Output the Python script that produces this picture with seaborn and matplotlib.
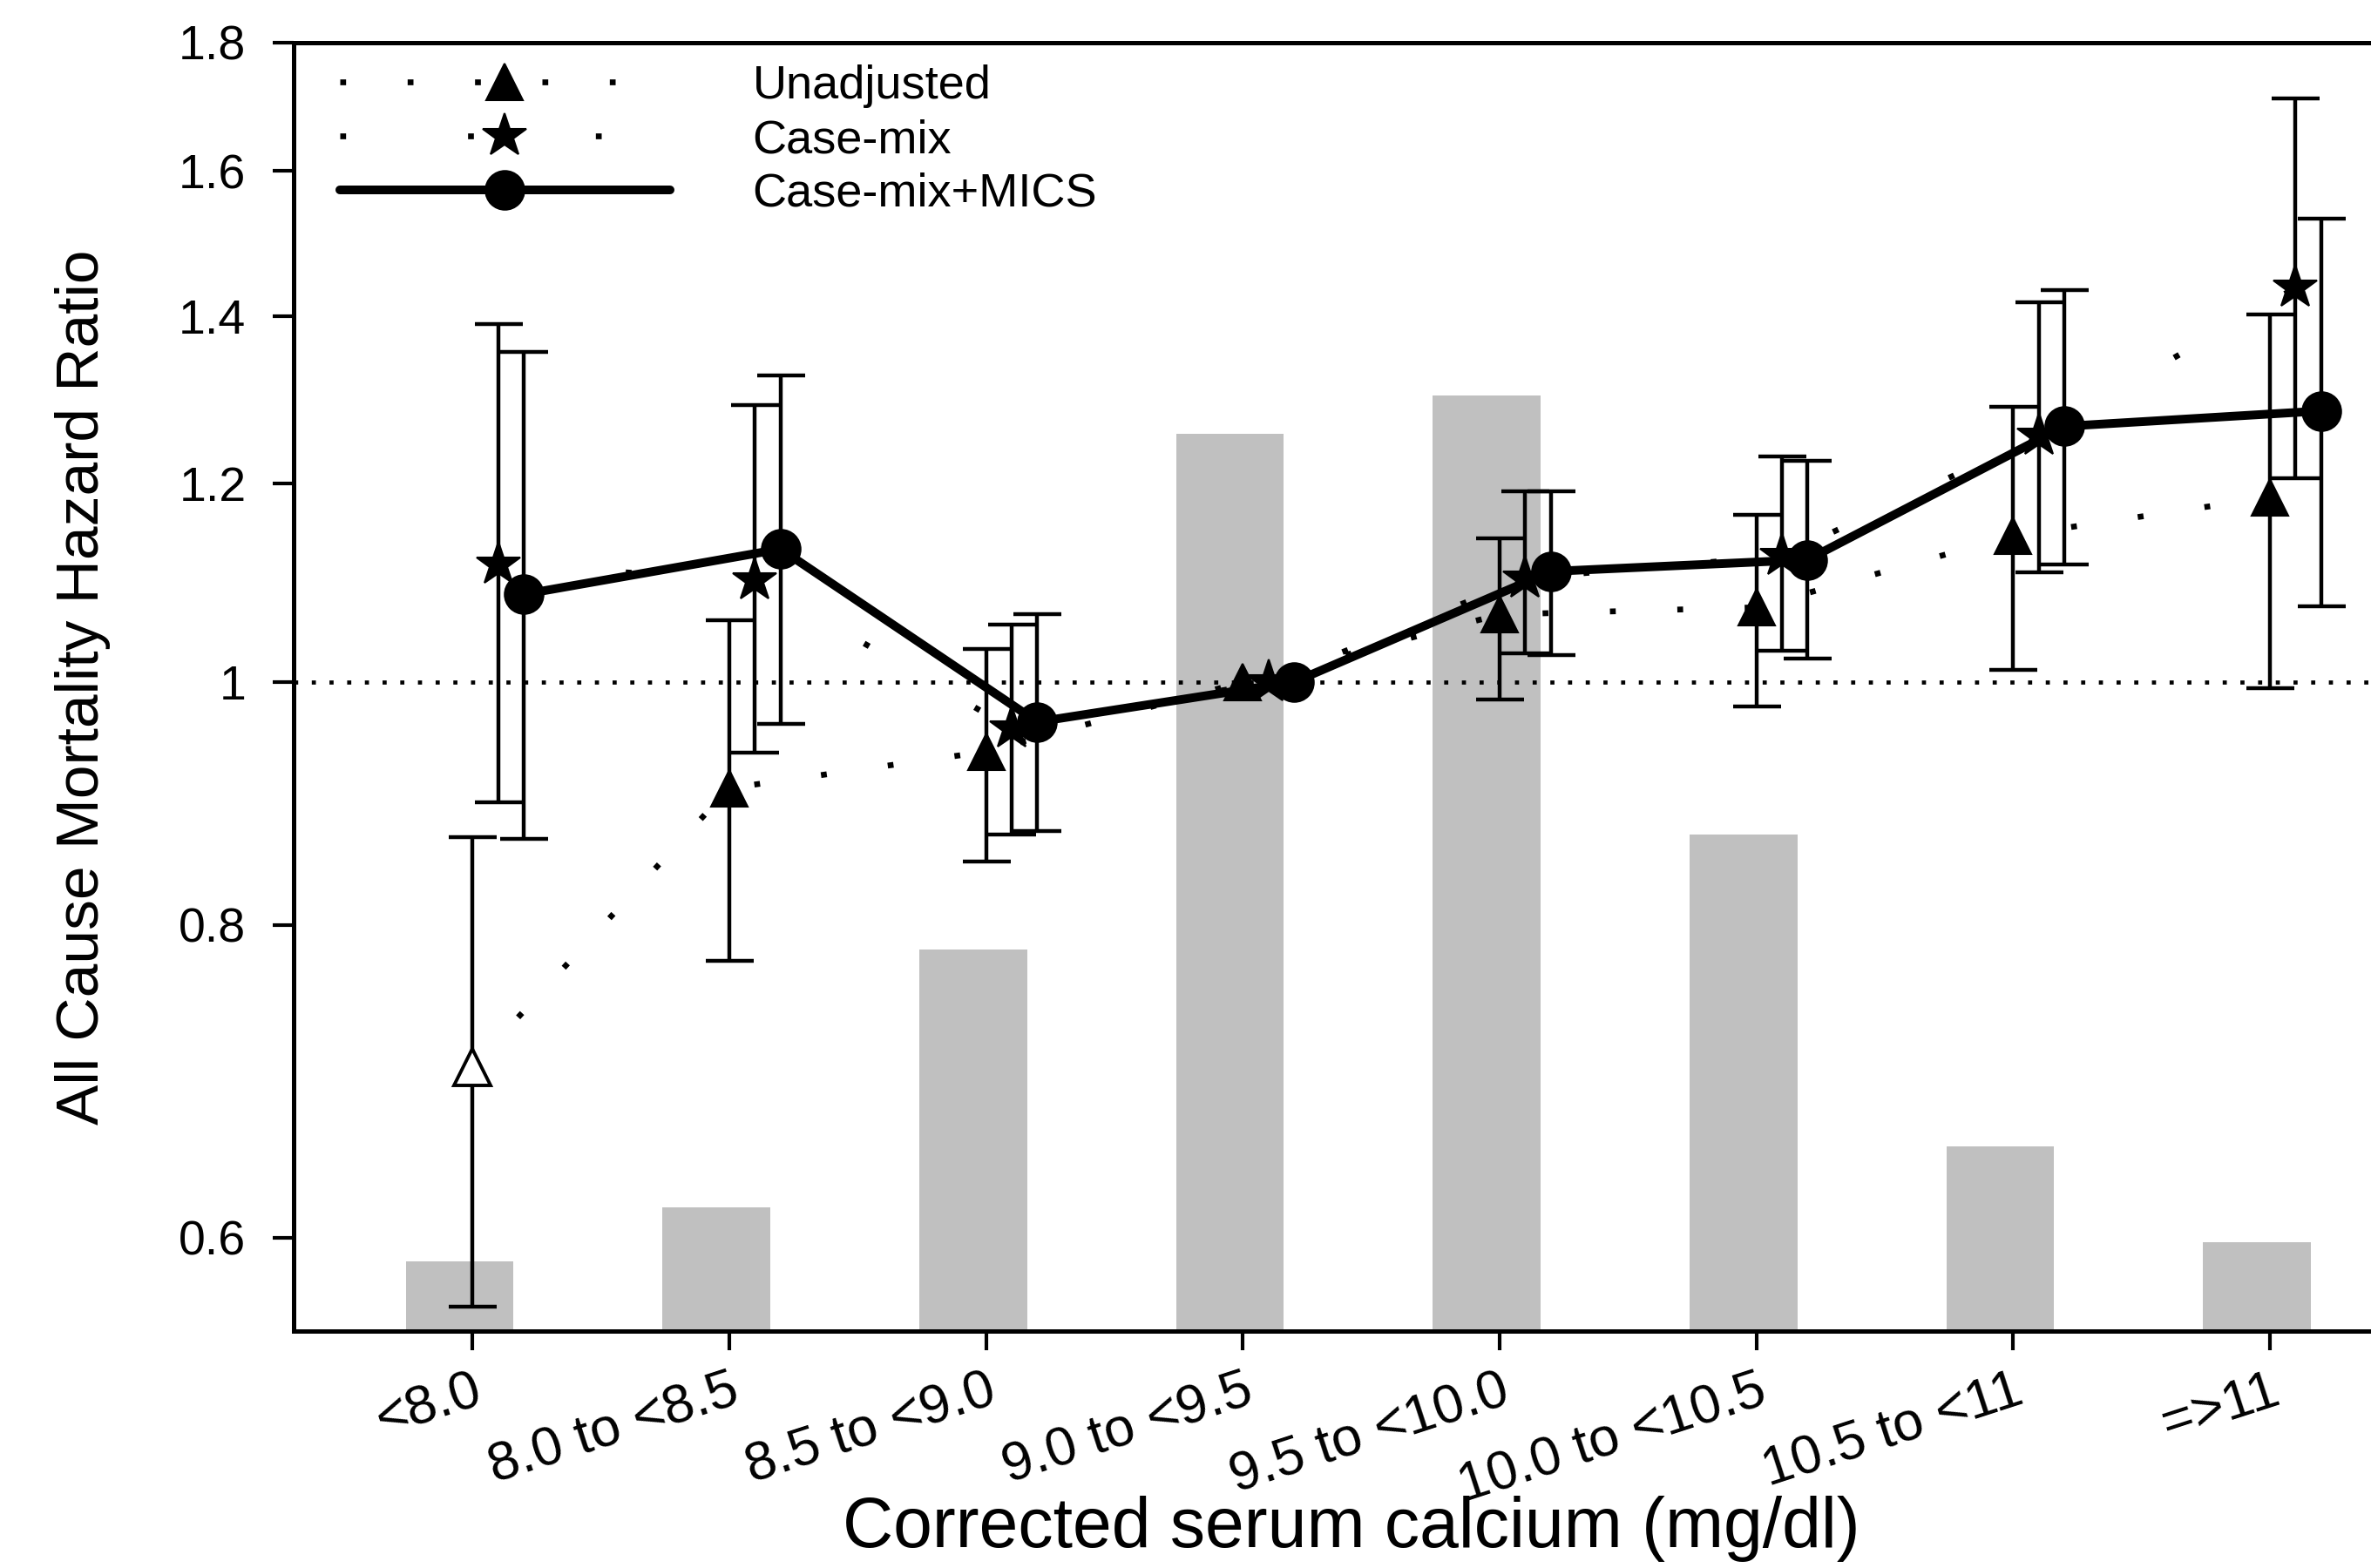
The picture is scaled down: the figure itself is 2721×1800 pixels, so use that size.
import numpy as np
import matplotlib
matplotlib.use('Agg')
import matplotlib.pyplot as plt
from matplotlib.ticker import FixedLocator, FixedFormatter, NullLocator
import seaborn as sns

# ---- data ----
categories = ['<8.0', '8.0 to <8.5', '8.5 to <9.0', '9.0 to <9.5',
              '9.5 to <10.0', '10.0 to <10.5', '10.5 to <11', '=>11']
pct_patients = [2.2, 3.9, 12.0, 28.2, 29.4, 15.6, 5.8, 2.8]

hr_unadj = [0.702, 0.907, 0.938, 1.0, 1.064, 1.071, 1.144, 1.185]
lo_unadj = [0.563, 0.774, 0.848, np.nan, 0.984, 0.978, 1.011, 0.994]
hi_unadj = [0.867, 1.058, 1.031, np.nan, 1.141, 1.166, 1.288, 1.402]

hr_casemix = [1.114, 1.098, 0.958, 1.0, 1.100, 1.123, 1.254, 1.437]
lo_casemix = [0.895, 0.937, 0.869, np.nan, 1.027, 1.029, 1.106, 1.206]
hi_casemix = [1.390, 1.290, 1.054, np.nan, 1.192, 1.230, 1.418, 1.710]

hr_mics = [1.084, 1.130, 0.964, 1.0, 1.107, 1.119, 1.265, 1.283]
lo_mics = [0.866, 0.962, 0.872, np.nan, 1.025, 1.022, 1.114, 1.072]
hi_mics = [1.354, 1.326, 1.064, np.nan, 1.192, 1.225, 1.434, 1.531]

ytick_vals = [0.6, 0.8, 1, 1.2, 1.4, 1.6, 1.8]
ytick_labels = ['0.6', '0.8', '1', '1.2', '1.4', '1.6', '1.8']

sns.set_style('ticks')
plt.rcParams['font.family'] = ['Liberation Sans', 'DejaVu Sans']
plt.rcParams.update({'text.color': 'black', 'axes.labelcolor': 'black',
                     'xtick.color': 'black', 'ytick.color': 'black'})

fig = plt.figure(figsize=(13.605, 9.0), dpi=200)
ax = fig.add_axes([0.1239, 0.1511, 0.8761, 0.8217])
ax_bar = ax.twinx()

idx = np.arange(len(categories))

# distribution bars (behind)
ax_bar.bar(idx - 0.05, pct_patients, width=0.42, color='#c0c0c0', edgecolor='none')
ax_bar.set_ylim(0, 40.5)
ax_bar.set_yticks([])
for s in ax_bar.spines.values():
    s.set_visible(False)
ax.set_zorder(ax_bar.get_zorder() + 1)
ax.patch.set_visible(False)

ax.set_yscale('log')
ax.axhline(1, color='black', lw=1.7, ls=(0, (1, 3.3)), zorder=1)

series = [
    ('Unadjusted', hr_unadj, lo_unadj, hi_unadj, 0.0, '^', 15, (0, (1, 10.6)), 2.4),
    ('Case-mix', hr_casemix, lo_casemix, hi_casemix, 0.1, '*', 19, (0, (1, 21)), 2.4),
    ('Case-mix+MICS', hr_mics, lo_mics, hi_mics, 0.2, 'o', 16, '-', 3.6),
]

handles = []
for name, hr, lo, hi, off, mk, ms, ls, lw in series:
    x = idx + off
    hr = np.array(hr)
    lo = np.array(lo)
    hi = np.array(hi)
    ok = ~np.isnan(lo)
    ax.errorbar(x[ok], hr[ok], yerr=[hr[ok] - lo[ok], hi[ok] - hr[ok]], fmt='none',
                ecolor='black', elinewidth=1.6, capsize=9.9, capthick=1.6, zorder=2)
    sns.lineplot(x=x, y=hr, ax=ax, color='black', linestyle=ls, lw=lw,
                 marker=mk, markersize=ms, markeredgecolor='black',
                 markerfacecolor='black', errorbar=None, zorder=3)
    handles.append(ax.lines[-1])

# first unadjusted estimate drawn as open triangle
ax.plot(idx[0], hr_unadj[0], marker='^', markersize=15, markerfacecolor='white',
        markeredgecolor='black', markeredgewidth=1.4, ls='none', zorder=4)

ax.set_ylim(0.5506, 1.8)
ax.yaxis.set_major_locator(FixedLocator(ytick_vals))
ax.yaxis.set_major_formatter(FixedFormatter(ytick_labels))
ax.yaxis.set_minor_locator(NullLocator())

ax.set_xlim(-0.696, 7.394)
ax.set_xticks(idx)
ax.set_xticklabels(categories, rotation=18, ha='right', rotation_mode='anchor')

ax.tick_params(axis='y', length=8.7, width=1.5, pad=11, labelsize=20, direction='out')
ax.tick_params(axis='x', length=8, width=1.5, pad=6, labelsize=22.5, direction='out')

ax.spines['right'].set_visible(False)
for side in ['left', 'bottom', 'top']:
    ax.spines[side].set_linewidth(1.8)
    ax.spines[side].set_color('black')

ax.set_ylabel('All Cause Mortality Hazard Ratio', fontsize=25)
ax.yaxis.set_label_coords(-0.088, 0.5)
ax.set_xlabel('Corrected serum calcium (mg/dl)', fontsize=29, va='top')
ax.xaxis.set_label_coords(0.509, -0.128)

ax.legend(handles=handles, labels=[s[0] for s in series], loc='upper left',
          bbox_to_anchor=(0.022, 0.983), frameon=False, fontsize=19.5,
          handlelength=7.0, handletextpad=1.75, labelspacing=0.22,
          numpoints=1, borderaxespad=0, borderpad=0)

fig.savefig('out.png', dpi=200)
